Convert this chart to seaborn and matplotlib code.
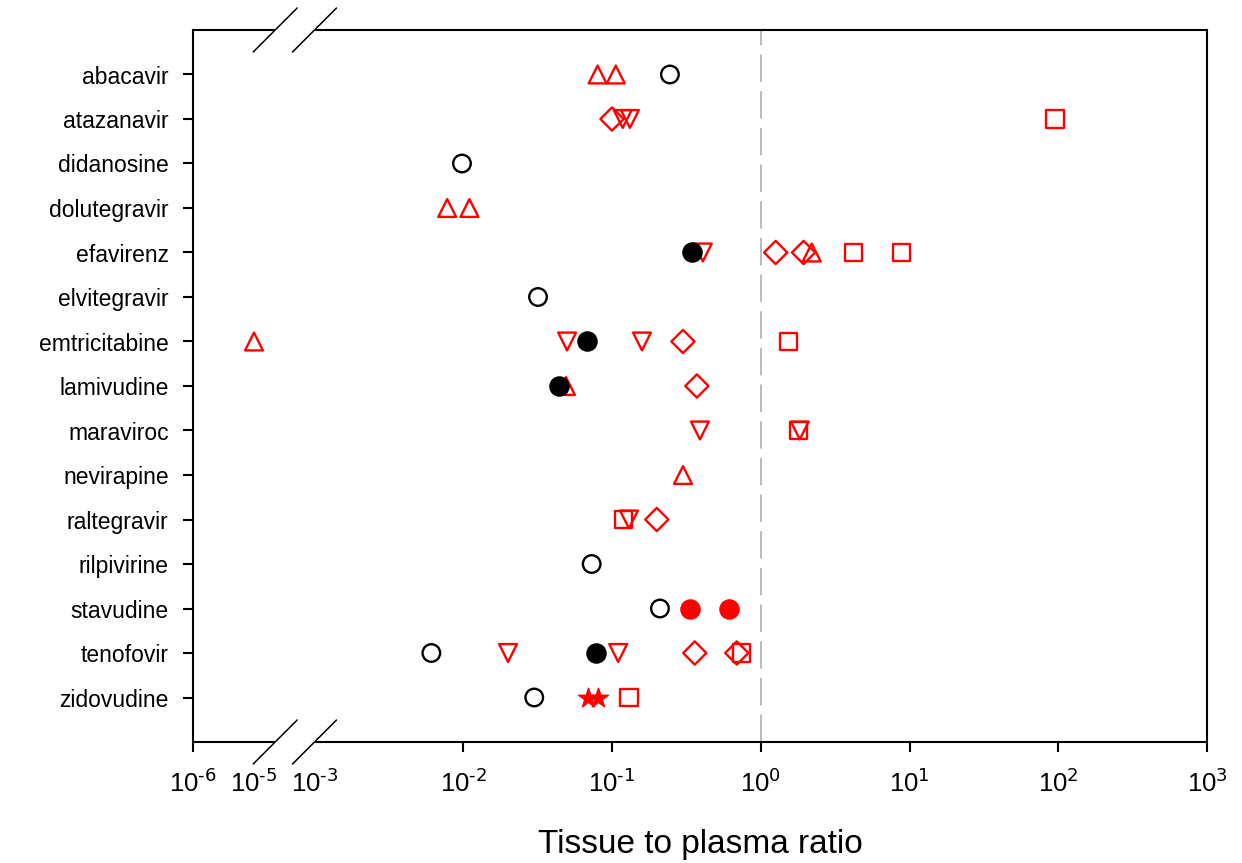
import numpy as np
import pandas as pd
import matplotlib
matplotlib.use("Agg")
import matplotlib.pyplot as plt
import seaborn as sns

# style
sns.set_theme(style="ticks")
plt.rcParams['font.family'] = ['Liberation Sans', 'DejaVu Sans']
plt.rcParams['mathtext.default'] = 'regular'
plt.rcParams.update({'text.color': 'black', 'axes.labelcolor': 'black',
                     'xtick.color': 'black', 'ytick.color': 'black'})

# data: tissue to plasma ratios
drugs = ['abacavir', 'atazanavir', 'didanosine', 'dolutegravir', 'efavirenz',
         'elvitegravir', 'emtricitabine', 'lamivudine', 'maraviroc', 'nevirapine',
         'raltegravir', 'rilpivirine', 'stavudine', 'tenofovir', 'zidovudine']

open_circle_drug = ['abacavir', 'didanosine', 'elvitegravir', 'rilpivirine',
                    'stavudine', 'tenofovir', 'zidovudine']
open_circle_val = [0.245, 0.0098, 0.0318, 0.073, 0.21, 0.0061, 0.030]

black_dot_drug = ['efavirenz', 'emtricitabine', 'lamivudine', 'tenofovir']
black_dot_val = [0.344, 0.068, 0.044, 0.078]

tri_up_drug = ['abacavir', 'abacavir', 'dolutegravir', 'dolutegravir', 'efavirenz',
               'emtricitabine', 'lamivudine', 'nevirapine']
tri_up_val = [0.080, 0.106, 0.0078, 0.011, 2.2, 1.0e-5, 0.049, 0.30]

tri_down_drug = ['atazanavir', 'atazanavir', 'efavirenz', 'emtricitabine', 'emtricitabine',
                 'maraviroc', 'maraviroc', 'raltegravir', 'tenofovir', 'tenofovir']
tri_down_val = [0.118, 0.132, 0.408, 0.0499, 0.159, 0.39, 1.83, 0.13, 0.020, 0.11]

diamond_drug = ['atazanavir', 'efavirenz', 'efavirenz', 'emtricitabine', 'lamivudine',
                'raltegravir', 'tenofovir', 'tenofovir']
diamond_val = [0.100, 1.26, 1.94, 0.30, 0.372, 0.20, 0.36, 0.69]

square_drug = ['atazanavir', 'efavirenz', 'efavirenz', 'emtricitabine', 'maraviroc',
               'raltegravir', 'tenofovir', 'zidovudine']
square_val = [95, 4.2, 8.8, 1.54, 1.80, 0.119, 0.745, 0.13]

red_dot_drug = ['stavudine', 'stavudine']
red_dot_val = [0.334, 0.61]

star_drug = ['zidovudine', 'zidovudine']
star_val = [0.069, 0.080]

tick_exp = [-6, -5, -3, -2, -1, 0, 1, 2, 3]

# broken log axis: 1e-6..1e-5 and 1e-5..1e-3 squeezed to the left
knots_log = np.array([-6.0, -5.0, -3.0, 3.0])
knots_u = np.array([-3.817, -3.407, -3.0, 3.0])


def fwd(x):
    x = np.asarray(x, dtype=float)
    l = np.log10(np.clip(x, 1e-12, None))
    return np.interp(l, knots_log, knots_u)


def inv(u):
    return 10 ** np.interp(np.asarray(u, dtype=float), knots_u, knots_log)


fig = plt.figure(figsize=(12.42, 8.63), dpi=100)
ax = fig.add_axes([193 / 1242, 1 - 742 / 863, 1014 / 1242, 712 / 863])
ax.set_xscale('function', functions=(fwd, inv))
ax.set_xlim(1e-6, 1e3)
ax.set_ylim(15, -1)

ax.axvline(1, color='#a8a8a8', lw=1.1, ls=(0, (18, 6)), zorder=0)

red = '#ff0000'
groups = [
    (tri_up_drug, tri_up_val, '^', red, False, 165),
    (tri_down_drug, tri_down_val, 'v', red, False, 165),
    (diamond_drug, diamond_val, 'D', red, False, 140),
    (square_drug, square_val, 's', red, False, 155),
    (red_dot_drug, red_dot_val, 'o', red, True, 190),
    (star_drug, star_val, '*', red, True, 220),
    (open_circle_drug, open_circle_val, 'o', 'black', False, 160),
    (black_dot_drug, black_dot_val, 'o', 'black', True, 190),
]
for names, vals, mk, col, filled, size in groups:
    d = pd.DataFrame({'ratio': vals, 'pos': [drugs.index(n) for n in names]})
    if filled:
        sns.scatterplot(data=d, x='ratio', y='pos', marker=mk, color=col,
                        edgecolor=col, s=size, linewidth=1.0, ax=ax, zorder=3)
    else:
        sns.scatterplot(data=d, x='ratio', y='pos', marker=mk, color=col,
                        facecolor='none', edgecolor=col, s=size, linewidth=1.7,
                        ax=ax, zorder=3)

# ticks
ax.set_yticks(range(len(drugs)))
ax.set_yticklabels(drugs, fontsize=16.5)
ax.set_xticks([10.0 ** e for e in tick_exp])
ax.set_xticklabels([r'$10^{\text{%d}}$' % e for e in tick_exp], fontsize=18.5)
ax.xaxis.set_minor_locator(matplotlib.ticker.NullLocator())
ax.tick_params(axis='both', direction='out', length=7.5, width=1.5, color='black',
               bottom=True, left=True, top=False, right=False)
ax.tick_params(axis='x', pad=12)
ax.tick_params(axis='y', pad=10)
for t in ax.xaxis.get_major_ticks()[1:3]:
    t.tick1line.set_visible(False)

ax.set_xlabel('Tissue to plasma ratio', fontsize=24, labelpad=23)
ax.set_ylabel('')

# frame with a break in the x axis
for side in ['left', 'right']:
    ax.spines[side].set_linewidth(1.5)
    ax.spines[side].set_color('black')
ax.spines['top'].set_visible(False)
ax.spines['bottom'].set_visible(False)

brk_lo, brk_hi = 10 ** -4.3, 1e-3
xt = ax.get_xaxis_transform()
for yy in (0, 1):
    ax.plot([1e-6, brk_lo], [yy, yy], color='black', lw=1.5, transform=xt,
            clip_on=False, solid_capstyle='butt', zorder=5)
    ax.plot([brk_hi, 1e3], [yy, yy], color='black', lw=1.5, transform=xt,
            clip_on=False, solid_capstyle='butt', zorder=5)

# slash marks at the break
to_axes = ax.transAxes.inverted()
dx, dy = 22 / 1014, 22 / 712
for xb in (brk_lo, brk_hi):
    xf = to_axes.transform(ax.transData.transform((xb, 0)))[0]
    for yy in (0, 1):
        ax.plot([xf - dx, xf + dx], [yy - dy, yy + dy], color='black', lw=1.1,
                transform=ax.transAxes, clip_on=False, zorder=5)

ax.grid(False)
fig.savefig('out.png', dpi=100, facecolor='white')
